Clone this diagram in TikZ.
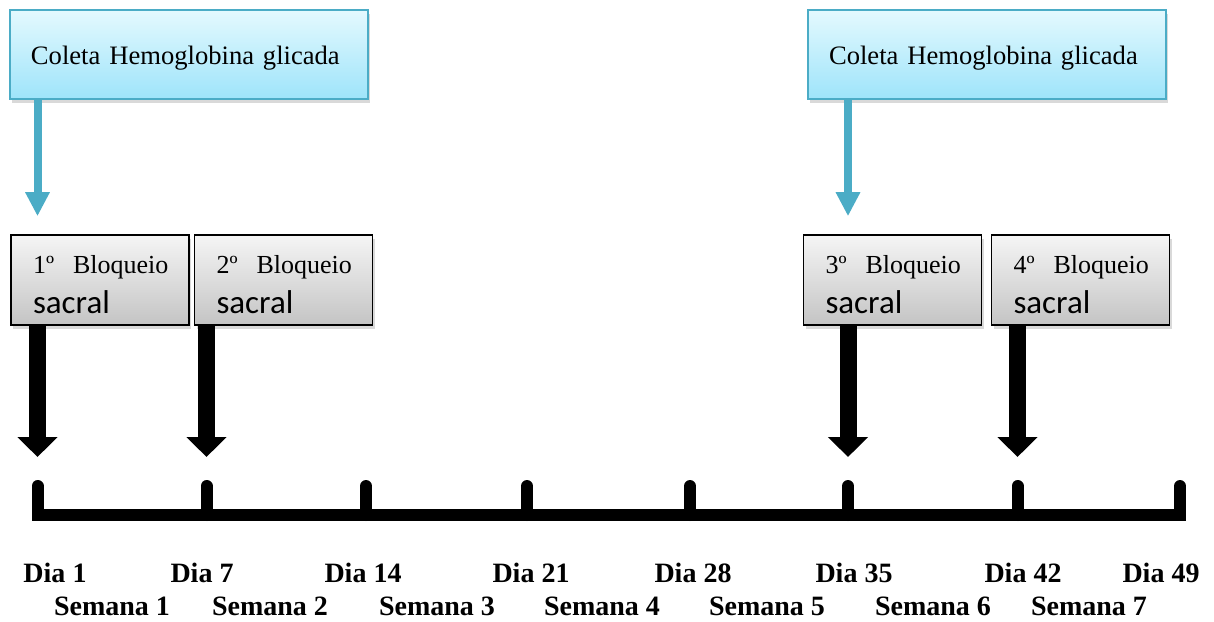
\documentclass[tikz,border=0pt]{standalone}
\usepackage{fontspec}
\setmainfont{Liberation Serif}
\newfontfamily\sacralfont{Carlito}
\usepackage{xcolor}
\usepackage{tikz}
\usetikzlibrary{arrows.meta,positioning,shadows,calc}

\definecolor{coletaline}{RGB}{75,172,198}
\definecolor{coletatop}{RGB}{228,249,254}
\definecolor{coletabot}{RGB}{158,228,250}
\definecolor{bloqtop}{RGB}{245,245,245}
\definecolor{bloqbot}{RGB}{196,196,196}

\begin{document}
\begin{tikzpicture}[
  x=0.5pt, y=-0.5pt,
  coleta/.style={draw=coletaline, line width=1pt, top color=coletatop, bottom color=coletabot, align=left, text width=158pt, inner xsep=10.5pt, minimum height=44.5pt, text height=12pt, text depth=2.5pt, font=\fontsize{13.3}{16}\selectfont, drop shadow={shadow xshift=1.2pt, shadow yshift=-1.8pt, opacity=0.3}},
  bloq/.style={draw, line width=0.8pt, top color=bloqtop, bottom color=bloqbot, align=left, text width=67pt, inner xsep=11pt, minimum height=45pt, font=\fontsize{13}{20}\selectfont, drop shadow={shadow xshift=1.2pt, shadow yshift=-1.8pt, opacity=0.3}},
  dia/.style={anchor=base, font=\bfseries\fontsize{14}{16}\selectfont},
  bluearr/.style={-{Triangle[width=11.5pt,length=12pt]}, line width=4pt, draw=coletaline},
  blkarr/.style={-{Triangle[width=19.5pt,length=10pt]}, line width=8.5pt},
  linha/.style={line width=6pt, line cap=round},
]
\useasboundingbox (0,0) rectangle (1214,621);
% coletas
\node[coleta] (coleta1) at (189,54.5) {Coleta Hemoglobina glicada};
\node[coleta] (coleta2) at (987,54.5) {Coleta Hemoglobina glicada};
% bloqueios
\node[bloq] (bloq1) at (100,280) {\rule{0pt}{13.5pt}\mbox{1º\hspace{9.5pt}Bloqueio}\\{\sacralfont\fontsize{16.5}{20}\selectfont sacral}};
\node[bloq] (bloq2) at (283.5,280) {\rule{0pt}{13.5pt}\mbox{2º\hspace{9.5pt}Bloqueio}\\{\sacralfont\fontsize{16.5}{20}\selectfont sacral}};
\node[bloq] (bloq3) at (892.5,280) {\rule{0pt}{13.5pt}\mbox{3º\hspace{9.5pt}Bloqueio}\\{\sacralfont\fontsize{16.5}{20}\selectfont sacral}};
\node[bloq] (bloq4) at (1080.5,280) {\rule{0pt}{13.5pt}\mbox{4º\hspace{9.5pt}Bloqueio}\\{\sacralfont\fontsize{16.5}{20}\selectfont sacral}};
% linha do tempo
\coordinate (dia1) at (37.5,515);
\coordinate (dia7) at (206.5,515);
\coordinate (dia14) at (366,515);
\coordinate (dia21) at (527,515);
\coordinate (dia28) at (690,515);
\coordinate (dia35) at (848,515);
\coordinate (dia42) at (1017.5,515);
\coordinate (dia49) at (1180,515);
\draw[linha] ([yshift=14.5pt]dia1) -- (dia1) -- (dia49) -- ([yshift=14.5pt]dia49);
\draw[linha] (dia7) -- ++(0,-29);
\draw[linha] (dia14) -- ++(0,-29);
\draw[linha] (dia21) -- ++(0,-29);
\draw[linha] (dia28) -- ++(0,-29);
\draw[linha] (dia35) -- ++(0,-29);
\draw[linha] (dia42) -- ++(0,-29);
% rotulos
\node[dia] (l1) at (55,582) {Dia 1};
\node[dia] (l7) at (202,582) {Dia 7};
\node[dia] (l14) at (363,582) {Dia 14};
\node[dia] (l21) at (531,582) {Dia 21};
\node[dia] (l28) at (693,582) {Dia 28};
\node[dia] (l35) at (854,582) {Dia 35};
\node[dia] (l42) at (1023,582) {Dia 42};
\node[dia] (l49) at (1161,582) {Dia 49};
\node[dia] (s1) at (112,615) {Semana 1};
\node[dia] (s2) at (270,615) {Semana 2};
\node[dia] (s3) at (437,615) {Semana 3};
\node[dia] (s4) at (602,615) {Semana 4};
\node[dia] (s5) at (767,615) {Semana 5};
\node[dia] (s6) at (933,615) {Semana 6};
\node[dia] (s7) at (1089,615) {Semana 7};
% setas
\draw[bluearr, shorten >=9pt] (coleta1.south -| dia1) -- (bloq1.north -| dia1);
\draw[bluearr, shorten >=9pt] (coleta2.south -| dia35) -- (bloq3.north -| dia35);
\draw[blkarr, shorten >=29pt] (bloq1.south -| dia1) -- (dia1);
\draw[blkarr, shorten >=29pt] (bloq2.south -| dia7) -- (dia7);
\draw[blkarr, shorten >=29pt] (bloq3.south -| dia35) -- (dia35);
\draw[blkarr, shorten >=29pt] (bloq4.south -| dia42) -- (dia42);
\end{tikzpicture}
\end{document}
